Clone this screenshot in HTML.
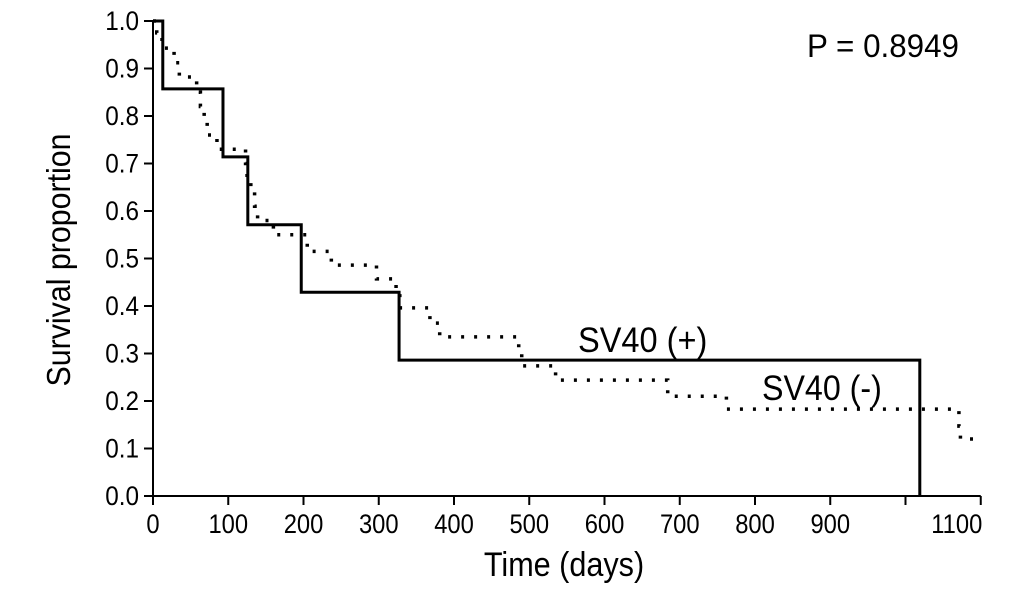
<!DOCTYPE html>
<html><head><meta charset="utf-8"><style>
body{margin:0;background:#fff;}
svg{display:block;font-family:"Liberation Sans",Arial,sans-serif;}
</style></head><body>
<svg id="chart" width="1033" height="590"></svg>
<script>
const xTicks=[0,100,200,300,400,500,600,700,800,900,1000,1100];
const xTickLabels=["0","100","200","300","400","500","600","700","800","900","","1100"];
const yTicks=[0,0.1,0.2,0.3,0.4,0.5,0.6,0.7,0.8,0.9,1.0];
const posTimes=[0,13,93,126,197,327,1019];
const posValues=[1,0.857,0.714,0.571,0.429,0.286,0];
const negTimes=[0,5,12,28,35,58,63,68,72,85,123,125,130,135,139,160,205,237,297,323,328,368,381,486,490,535,684,762,1071,1073];
const negValues=[1,0.975,0.943,0.912,0.882,0.85,0.82,0.79,0.76,0.73,0.70,0.67,0.64,0.61,0.58,0.55,0.515,0.486,0.457,0.427,0.396,0.364,0.335,0.30,0.274,0.244,0.21,0.183,0.147,0.12];
const negEnd=1100;
const NS="http://www.w3.org/2000/svg";
const svg=document.getElementById('chart');
const X=t=>153+t*0.7525;
const Y=v=>496-v*475;
function mk(tag,attrs,txt){const e=document.createElementNS(NS,tag);for(const k in attrs)e.setAttribute(k,attrs[k]);if(txt!==undefined)e.textContent=txt;svg.appendChild(e);return e;}
function ntext(x,y,size,anchor,txt,sx,rot){
 const tr='translate('+x+','+y+')'+(rot?' rotate('+rot+')':'')+' scale('+sx+',1)';
 return mk('text',{x:0,y:0,'font-size':size,'text-anchor':anchor,transform:tr},txt);
}
let e;
e=mk('line',{x1:X(0),y1:Y(0),x2:X(1100),y2:Y(0),stroke:'#000','stroke-width':2});


e=mk('line',{x1:X(0),y1:Y(0),x2:X(0),y2:Y(1)-1,stroke:'#000','stroke-width':2});


xTicks.forEach((t,i)=>{
 e=mk('line',{x1:X(t),y1:Y(0),x2:X(t),y2:Y(0)+9,stroke:'#000','stroke-width':2});
 
 
 const lx=(t===1100)?X(t)-24:X(t);
 e=ntext(lx,533,27,'middle',xTickLabels[i],0.88);
 
 
});
yTicks.forEach(v=>{
 e=mk('line',{x1:X(0)-9,y1:Y(v),x2:X(0),y2:Y(v),stroke:'#000','stroke-width':2});
 
 
 e=ntext(139,Y(v)+9,27,'end',v.toFixed(1),0.9);
 
 
});
e=ntext(564,576,34,'middle','Time (days)',0.9);


e=ntext(70,260,33,'middle','Survival proportion',0.92,-90);


function stepPath(ts,vs,end){let d='M'+X(ts[0])+','+Y(vs[0]);for(let i=1;i<ts.length;i++){d+=' H'+X(ts[i])+' V'+Y(vs[i]);}if(end!==undefined)d+=' H'+X(end);return d;}
e=mk('path',{d:stepPath(negTimes,negValues,negEnd),fill:'none',stroke:'#000','stroke-width':3.5,'stroke-dasharray':'3 10'});


e=mk('path',{d:stepPath(posTimes,posValues),fill:'none',stroke:'#000','stroke-width':3});


e=ntext(578,352,35,'start','SV40 (+)',0.93);


e=ntext(762,400,35,'start','SV40 (-)',0.92);


e=ntext(807,57,32,'start','P = 0.8949',0.98);


</script>
</body></html>
